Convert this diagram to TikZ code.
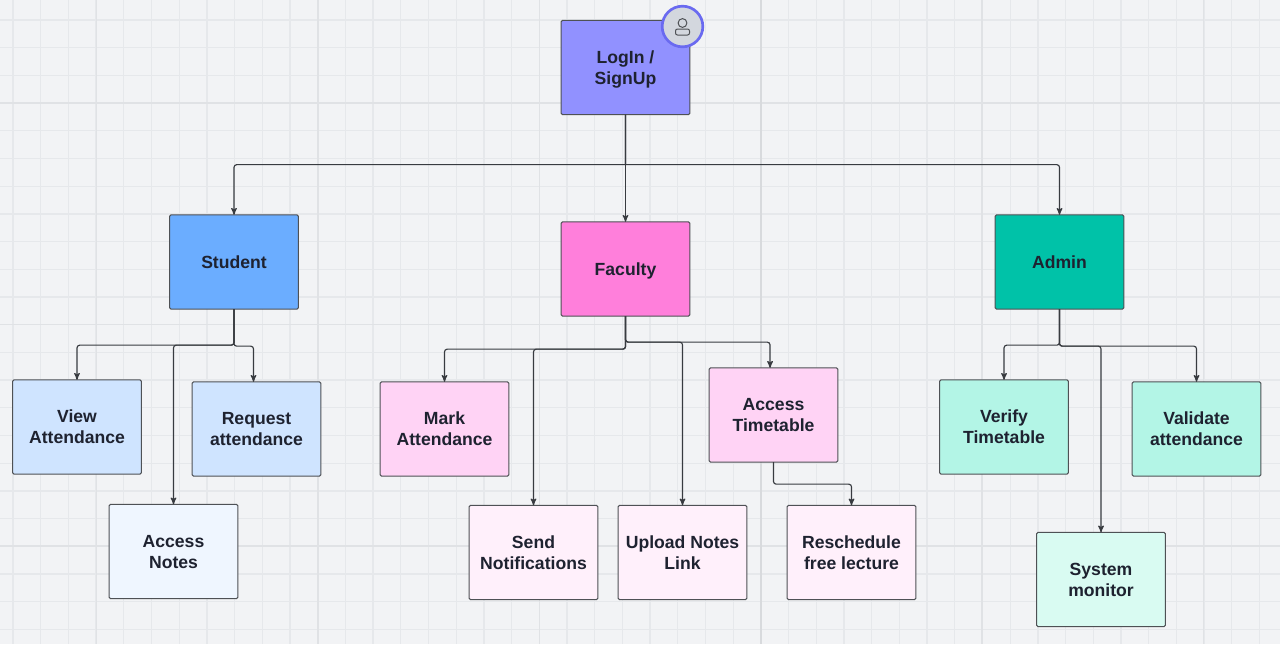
\documentclass[tikz,border=0pt]{standalone}
\usepackage{fontspec}
\setmainfont{Liberation Sans}
\usetikzlibrary{arrows}
\definecolor{canvasbg}{HTML}{F2F3F5}
\definecolor{gridminor}{HTML}{E6E8EB}
\definecolor{gridmajor}{HTML}{E0E2E5}
\definecolor{gridcentre}{HTML}{D8DADD}
\definecolor{inkline}{HTML}{22252B}
\definecolor{inktext}{HTML}{1E2230}
\definecolor{loginfill}{HTML}{9191FF}
\definecolor{studentfill}{HTML}{6BADFF}
\definecolor{studentmid}{HTML}{CFE4FF}
\definecolor{studentpale}{HTML}{EFF6FF}
\definecolor{facultyfill}{HTML}{FF7FDB}
\definecolor{facultymid}{HTML}{FFD3F5}
\definecolor{facultypale}{HTML}{FFF0FB}
\definecolor{adminfill}{HTML}{00C2A8}
\definecolor{adminmid}{HTML}{B3F5E6}
\definecolor{adminpale}{HTML}{D9FBF2}
\definecolor{avatarfill}{HTML}{D3D7DE}
\definecolor{avatarring}{HTML}{6A6AF0}
\newcommand{\labelstrut}{\rule[-2.8pt]{0pt}{15pt}}
\newcommand{\twolines}[2]{\labelstrut#1\labelstrut\\\labelstrut#2\labelstrut}
\begin{document}
\begin{tikzpicture}[x=0.75pt, y=-0.75pt, ->, >=stealth', line width=0.85pt, draw=inkline!90]
    \tikzstyle{boxbase}=[draw=inkline!80,line width=0.8pt,rounded corners=1pt,minimum width=96.5pt,minimum height=70.75pt,align=center,outer sep=0pt,text=inktext,font=\bfseries\fontsize{13.2}{15.75}\selectfont]
    \tikzset{
      box/.style={boxbase,fill=#1},
      elbow/.style={rounded corners=2pt,to path={-- ++(0,#1) -| (\tikztotarget)}},
      busline/.style={to path={-- ++(0,#1) [rounded corners=2pt] -| (\tikztotarget)}}
    }
    \useasboundingbox (0,0) rectangle (1280,644);
    \fill[canvasbg,draw=none] (0,0) rectangle (1280,644);
    % grid
    \foreach \i in {0,...,46}
      \draw[-,line width=1pt,gridminor] (13+27.7*\i,0) -- (13+27.7*\i,644);
    \foreach \i in {0,...,23}
      \draw[-,line width=1pt,gridminor] (0,20+27.7*\i) -- (1280,20+27.7*\i);
    \foreach \x in {96.5,318,539.5,982,1203.5}
      \draw[-,line width=1pt,gridmajor] (\x,0) -- (\x,644);
    \foreach \y in {103,324.5,546}
      \draw[-,line width=1pt,gridmajor] (0,\y) -- (1280,\y);
    \draw[-,line width=1.3pt,gridcentre] (761,0) -- (761,644);
    % boxes
    \node[box=loginfill]    (login)    at (625.5,67.5)  {\twolines{LogIn /}{SignUp}};
    \node[box=studentfill]  (student)  at (234,262)     {\labelstrut Student};
    \node[box=facultyfill]  (faculty)  at (625.5,269)   {\labelstrut Faculty};
    \node[box=adminfill]    (admin)    at (1059.5,262)  {\labelstrut Admin};
    \node[box=studentmid]   (view)     at (77,427)      {\twolines{View}{Attendance}};
    \node[box=studentmid]   (request)  at (256.5,429)   {\twolines{Request}{attendance}};
    \node[box=studentpale]  (notes)    at (173.5,551.5) {\twolines{Access}{Notes}};
    \node[box=facultymid]   (mark)     at (444.5,429)   {\twolines{Mark}{Attendance}};
    \node[box=facultypale]  (send)     at (533.5,552.5) {\twolines{Send}{Notifications}};
    \node[box=facultypale]  (upload)   at (682.5,552.5) {\twolines{Upload Notes}{Link}};
    \node[box=facultymid]   (timetable) at (773.5,415)  {\twolines{Access}{Timetable}};
    \node[box=facultypale]  (resched)  at (851.5,552.5) {\twolines{Reschedule}{free lecture}};
    \node[box=adminmid]     (verify)   at (1004,427)    {\twolines{Verify}{Timetable}};
    \node[box=adminmid]     (validate) at (1196.5,429)  {\twolines{Validate}{attendance}};
    \node[box=adminpale]    (system)   at (1101,579.5)  {\twolines{System}{monitor}};
    % connectors
    \path
    (login.south)
      edge[busline=50]	(student.north)
      edge		(faculty.north)
      edge[busline=50]	(admin.north)
    (student.south)
      edge[elbow=36]	(view.north)
      edge[elbow=36]	(notes.north)
      edge[elbow=37]	([xshift=-2.25pt]request.north)
    (faculty.south)
      edge[elbow=33]	(mark.north)
      edge[elbow=33]	(send.north)
      edge[elbow=26]	(upload.north)
      edge[elbow=26]	([xshift=-2.6pt]timetable.north)
    (timetable.south)
      edge[elbow=22]	(resched.north)
    (admin.south)
      edge[elbow=36]	(verify.north)
      edge[elbow=37]	(system.north)
      edge[elbow=37]	(validate.north);
    % avatar on the login box
    \node[circle,draw=avatarring,fill=avatarfill,line width=2pt,minimum size=30.5pt,inner sep=0pt] (avatar) at (682.5,26.5) {};
    \draw[-,line width=0.75pt,draw=inkline!80] (682.5,23) circle (3.3pt);
    \draw[-,line width=0.75pt,draw=inkline!80,rounded corners=1.5pt] (675.5,35) rectangle (689.5,29);
\end{tikzpicture}
\end{document}
